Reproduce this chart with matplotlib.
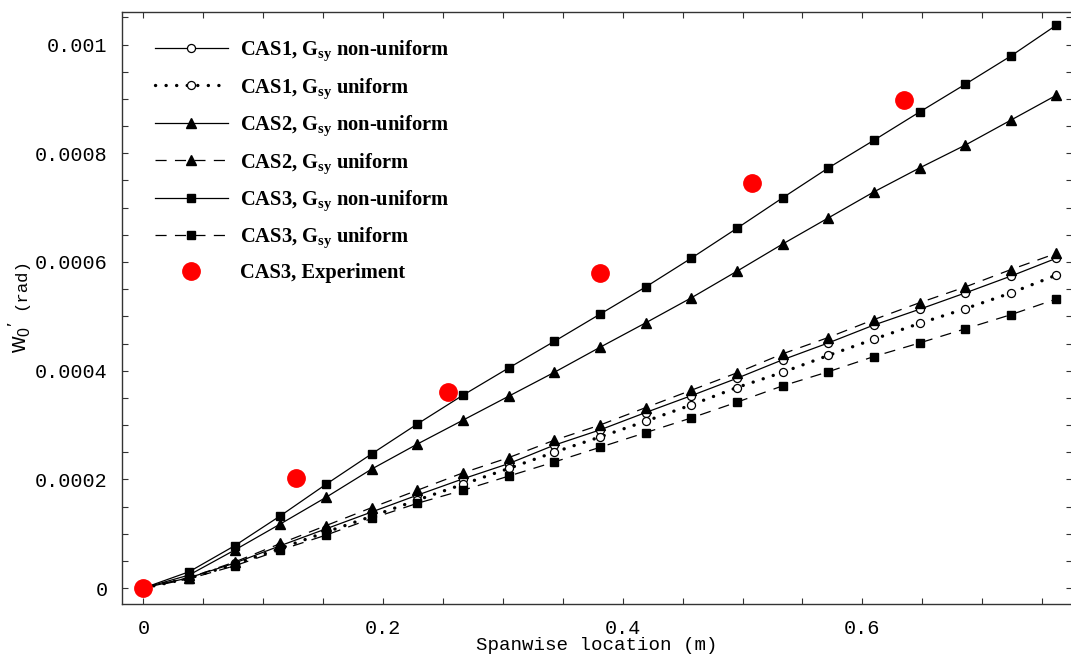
import matplotlib
matplotlib.use('Agg')
import matplotlib.pyplot as plt
from matplotlib.ticker import FixedLocator, MultipleLocator

plt.rcParams['mathtext.fontset'] = 'custom'
plt.rcParams['mathtext.rm'] = 'Liberation Serif:bold'
plt.rcParams['mathtext.bf'] = 'Liberation Serif:bold'
plt.rcParams['mathtext.it'] = 'Liberation Serif:bold'
plt.rcParams['mathtext.sf'] = 'Liberation Sans'
plt.rcParams['lines.scale_dashes'] = False

# ---------------- data ----------------
x = [0.0, 0.0381, 0.0762, 0.1143, 0.1524, 0.1905, 0.2286, 0.2667, 0.3048,
     0.3429, 0.381, 0.4191, 0.4572, 0.4953, 0.5334, 0.5715, 0.6096, 0.6477,
     0.6858, 0.7239, 0.762]

cas1_nonuni = [0, 0.000019, 0.000046, 0.000078, 0.000109, 0.000140, 0.000171,
               0.000201, 0.000229, 0.000263, 0.000291, 0.000323, 0.000354,
               0.000386, 0.000420, 0.000451, 0.000484, 0.000513, 0.000543,
               0.000574, 0.000607]
cas1_uni = [0, 0.000018, 0.000044, 0.000073, 0.000103, 0.000132, 0.000162,
            0.000191, 0.000220, 0.000250, 0.000278, 0.000307, 0.000337,
            0.000369, 0.000397, 0.000428, 0.000458, 0.000487, 0.000514,
            0.000543, 0.000576]
cas2_nonuni = [0, 0.000024, 0.000070, 0.000118, 0.000167, 0.000219, 0.000265,
               0.000309, 0.000353, 0.000397, 0.000443, 0.000488, 0.000534,
               0.000583, 0.000633, 0.000681, 0.000729, 0.000773, 0.000815,
               0.000861, 0.000907]
cas2_uni = [0, 0.000019, 0.000048, 0.000082, 0.000115, 0.000148, 0.000180,
            0.000212, 0.000240, 0.000272, 0.000300, 0.000332, 0.000364,
            0.000396, 0.000431, 0.000461, 0.000494, 0.000525, 0.000554,
            0.000586, 0.000616]
cas3_nonuni = [0, 0.000030, 0.000078, 0.000133, 0.000191, 0.000247, 0.000302,
               0.000355, 0.000405, 0.000454, 0.000504, 0.000554, 0.000607,
               0.000662, 0.000718, 0.000773, 0.000824, 0.000876, 0.000927,
               0.000979, 0.001036]
cas3_uni = [0, 0.000017, 0.000041, 0.000070, 0.0000975, 0.000128, 0.000156,
            0.000180, 0.000206, 0.000232, 0.000259, 0.000286, 0.000313,
            0.000342, 0.000372, 0.000398, 0.000426, 0.000451, 0.000477,
            0.000503, 0.000532]

exp_x = [0.0, 0.127, 0.254, 0.381, 0.508, 0.635]
exp_y = [0.0, 0.000202, 0.000360, 0.000579, 0.000745, 0.000899]

labels = [r"CAS1, G$_{\mathrm{sy}}$ non-uniform",
          r"CAS1, G$_{\mathrm{sy}}$ uniform",
          r"CAS2, G$_{\mathrm{sy}}$ non-uniform",
          r"CAS2, G$_{\mathrm{sy}}$ uniform",
          r"CAS3, G$_{\mathrm{sy}}$ non-uniform",
          r"CAS3, G$_{\mathrm{sy}}$ uniform",
          "CAS3, Experiment"]

xticks = [0, 0.2, 0.4, 0.6]
xticklabels = ["0", "0.2", "0.4", "0.6"]
yticks = [0, 0.0002, 0.0004, 0.0006, 0.0008, 0.001]
yticklabels = ["0", "0.0002", "0.0004", "0.0006", "0.0008", "0.001"]

# ---------------- figure ----------------
fig = plt.figure(figsize=(10.71, 6.60), dpi=100)
ax = fig.add_axes([0.1136, 0.0848, 1.0010 - 0.1136, 0.9818 - 0.0848])

lw = 0.9
dash = (0, (8, 6))
dot = (0, (0.1, 7.5))

h1, = ax.plot(x, cas1_nonuni, color='black', lw=lw, ls='-', marker='o', ms=5.8,
              mfc='white', mec='black', mew=0.9, label=labels[0], zorder=3)
h2, = ax.plot(x, cas1_uni, color='black', lw=2.4, ls=dot, dash_capstyle='round',
              marker='o', ms=5.8, mfc='white', mec='black', mew=0.9,
              label=labels[1], zorder=3)
h3, = ax.plot(x, cas2_nonuni, color='black', lw=lw, ls='-', marker='^', ms=6.8,
              mfc='black', mec='black', label=labels[2], zorder=3)
h4, = ax.plot(x, cas2_uni, color='black', lw=lw, ls=dash, marker='^', ms=6.8,
              mfc='black', mec='black', label=labels[3], zorder=3)
h5, = ax.plot(x, cas3_nonuni, color='black', lw=lw, ls='-', marker='s', ms=6,
              mfc='black', mec='black', label=labels[4], zorder=3)
h6, = ax.plot(x, cas3_uni, color='black', lw=lw, ls=dash, marker='s', ms=6,
              mfc='black', mec='black', label=labels[5], zorder=3)
h7, = ax.plot(exp_x, exp_y, ls='none', marker='o', ms=12.5, mfc='#ff0000',
              mec='#ff0000', label=labels[6], zorder=5)

ax.set_xlim(-0.0182, 0.7750)
ax.set_ylim(-0.0000294, 0.00106)

ax.xaxis.set_major_locator(FixedLocator(xticks))
ax.set_xticklabels(xticklabels)
ax.xaxis.set_minor_locator(MultipleLocator(0.05))
ax.yaxis.set_major_locator(FixedLocator(yticks))
ax.set_yticklabels(yticklabels)
ax.yaxis.set_minor_locator(MultipleLocator(0.00005))

mono = 'Liberation Mono'
for lab in ax.get_xticklabels() + ax.get_yticklabels():
    lab.set_fontfamily(mono)
    lab.set_fontsize(14.5)

ax.tick_params(which='both', direction='in', top=True, right=True,
               length=4, width=0.8, color='#333333')
ax.tick_params(axis='x', which='major', pad=11)
ax.tick_params(axis='y', which='major', pad=10)

for sp in ax.spines.values():
    sp.set_linewidth(1.0)
    sp.set_color('#333333')

ax.set_xlabel("Spanwise location (m)", fontfamily=mono, fontsize=13.8,
              labelpad=-1)

# y label: sans "w0'" followed by monospace "(rad)"
fig.text(20 / 1071, 1 - 337 / 660, r"$\mathsf{w}_{\mathsf{0}}{}^{\prime}$",
         rotation=90, ha='center', va='center', fontsize=16.5)
fig.text(21 / 1071, 1 - 284 / 660, "(rad)", rotation=90, ha='center',
         va='center', fontfamily=mono, fontsize=12.5)

leg = ax.legend(handles=[h1, h2, h3, h4, h5, h6, h7], loc='upper left',
                bbox_to_anchor=(0.035, 0.955), frameon=False, numpoints=1,
                handlelength=3.55, handletextpad=0.58, labelspacing=0.63,
                borderaxespad=0, borderpad=0,
                prop={'family': 'Liberation Serif', 'weight': 'bold',
                      'size': 14.8})

fig.savefig('out.png', dpi=100)
